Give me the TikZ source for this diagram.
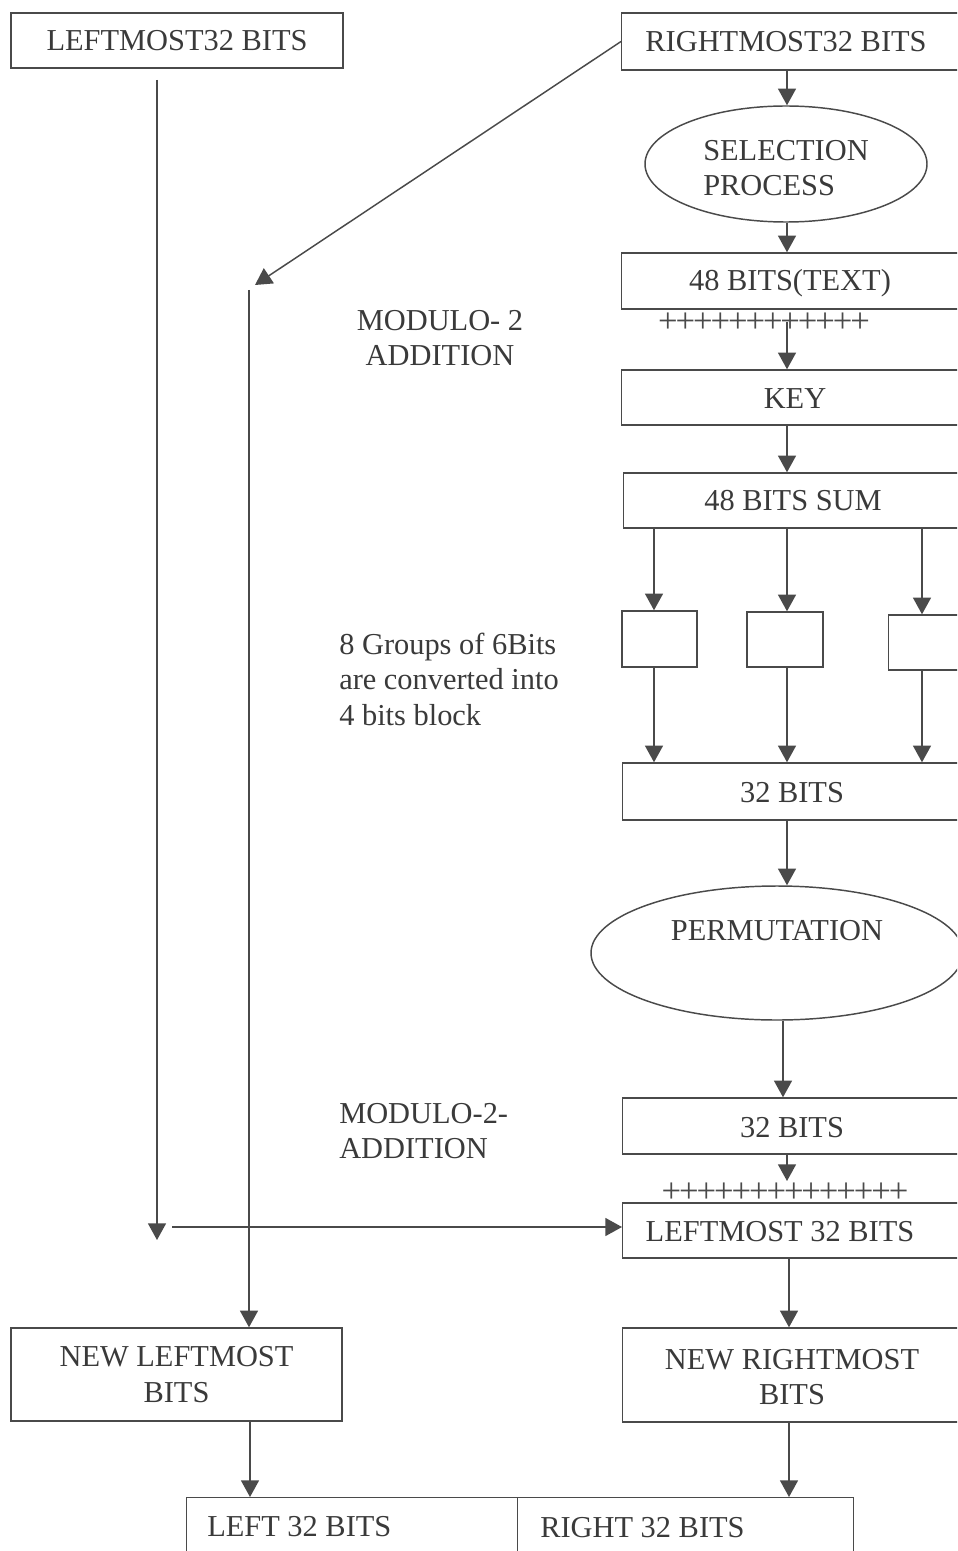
\documentclass[tikz,border=0pt]{standalone}
\usepackage{fontspec}
\setmainfont{Liberation Serif}
\newfontfamily\plusfont[LetterSpace=-6]{Liberation Serif}
\usetikzlibrary{arrows.meta,shapes.geometric}
\definecolor{ink}{HTML}{3A3A3A}
\definecolor{edge}{HTML}{4A4A4A}

\begin{document}
\begin{tikzpicture}[x=0.75pt,y=-0.75pt,
  every node/.style={text=ink, font=\fontsize{22.8pt}{26.6pt}\selectfont, inner sep=0pt},
  box/.style={draw=edge, line width=1.1pt, rectangle},
  rbox/.style={box, anchor=west, minimum width=345*0.75pt},
  oval/.style={draw=edge, line width=1.1pt, ellipse},
  arr/.style={draw=edge, line width=1.1pt, -{Triangle[width=13.5pt,length=12.5pt]}},
  plusrow/.style={font=\plusfont\fontsize{26pt}{26.6pt}\selectfont, text=edge},
]
\useasboundingbox (0,0) rectangle (957,1551);
\clip (0,0) rectangle (957,1551);

% left column boxes
\node[box, minimum width=332*0.75pt, minimum height=55*0.75pt] (lm) at (177,40.5) {LEFTMOST32 BITS};
\node[box, minimum width=331*0.75pt, minimum height=93*0.75pt, align=center] (nl) at (176.5,1374.5) {NEW LEFTMOST\\BITS};

% right column boxes (run off the right edge)
\node[rbox, minimum height=57*0.75pt] (rm) at (621,41.5) {};
\node (rmT) at (786,42) {RIGHTMOST32 BITS};
\node[oval, minimum width=282*0.75pt, minimum height=116*0.75pt] (sel) at (786,164) {};
\node[align=left] (selT) at (786,168) {SELECTION\\PROCESS};
\node[rbox, minimum height=56*0.75pt] (t48) at (621,281) {};
\node (t48T) at (790,283) {48 BITS(TEXT)};
\node[rbox, minimum height=55*0.75pt] (key) at (621,397.5) {};
\node (keyT) at (795,399) {KEY};
\node[rbox, minimum height=55*0.75pt] (sum) at (623,500.5) {};
\node (sumT) at (793,501) {48 BITS SUM};

% S-box groups
\node[box, minimum width=75*0.75pt, minimum height=56*0.75pt] (s1) at (659.5,639) {};
\node[box, minimum width=76*0.75pt, minimum height=55*0.75pt] (s2) at (785,639.5) {};
\node[box, anchor=west, minimum width=80*0.75pt, minimum height=55*0.75pt] (s3) at (888,642.5) {};

\node[rbox, minimum height=57*0.75pt] (b32a) at (622,791.5) {};
\node (b32aT) at (792,793) {32 BITS};
\node[oval, minimum width=372*0.75pt, minimum height=134*0.75pt] (perm) at (777,953) {};
\node (permT) at (777,931) {PERMUTATION};
\node[rbox, minimum height=56*0.75pt] (b32b) at (622,1126) {};
\node (b32bT) at (792,1128) {32 BITS};
\node[rbox, minimum height=55*0.75pt] (lm32) at (622,1230.5) {};
\node (lm32T) at (780,1232) {LEFTMOST 32 BITS};
\node[rbox, minimum height=94*0.75pt] (nr) at (622,1375) {};
\node[align=center] (nrT) at (792,1377) {NEW RIGHTMOST\\BITS};

% joined output block
\node[box, anchor=north west, minimum width=331*0.75pt, minimum height=70*0.75pt] (lb) at (186,1497) {};
\node[box, anchor=north west, minimum width=336*0.75pt, minimum height=70*0.75pt] (rb) at (517,1497) {};
\node[anchor=west] (lbT) at (207,1527) {LEFT 32 BITS};
\node[anchor=west] (rbT) at (540,1528) {RIGHT 32 BITS};

% side notes
\node[align=center] (mod1) at (440,338) {MODULO- 2\\ADDITION};
\node[align=left, anchor=west] (grp) at (339,679) {8 Groups of 6Bits\\are converted into\\4 bits block};
\node[align=left, anchor=west] (mod2) at (339,1131) {MODULO-2-\\ADDITION};

% XOR marks
\node[plusrow] (pr1) at (764,323) {++++++++++++};
\node[plusrow] (pr2) at (785,1193) {++++++++++++++};

% vertical guides
\coordinate (col) at (787,0);
\coordinate (col2) at (783,0);
\coordinate (col3) at (789,0);
\coordinate (ca) at (654,0);
\coordinate (cc) at (922,0);
\coordinate (c4) at (250,0);
\coordinate (p1) at (787,322);
\coordinate (tip2) at (787,1181);
\coordinate (ls) at (157,80);
\coordinate (le) at (157,1240);
\coordinate (hs) at (172,1227);
\coordinate (dt) at (255,285);
\coordinate (vs) at (249,290);

% main flow
\draw[arr] (col |- rm.south) -- (col |- sel.north);
\draw[arr] (col |- sel.south) -- (col |- t48.north);
\draw[arr] (p1) -- (col |- key.north);
\draw[arr] (col |- key.south) -- (col |- sum.north);
\draw[arr] (ca |- sum.south) -- (ca |- s1.north);
\draw[arr] (col |- sum.south) -- (col |- s2.north);
\draw[arr] (cc |- sum.south) -- (cc |- s3.north);
\draw[arr] (ca |- s1.south) -- (ca |- b32a.north);
\draw[arr] (col |- s2.south) -- (col |- b32a.north);
\draw[arr] (cc |- s3.south) -- (cc |- b32a.north);
\draw[arr] (col |- b32a.south) -- (col |- perm.north);
\draw[arr] (col2 |- perm.south) -- (col2 |- b32b.north);
\draw[arr] (col |- b32b.south) -- (tip2);
\draw[arr] (col3 |- lm32.south) -- (col3 |- nr.north);
\draw[arr] (col3 |- nr.south) -- (col3 |- rb.north);

% swaps on the left
\draw[arr] (ls) -- (le);
\draw[arr] (hs) -- (hs -| lm32.west);
\draw[arr] (rm.west) -- (dt);
\draw[arr] (vs) -- (vs |- nl.north);
\draw[arr] (c4 |- nl.south) -- (c4 |- lb.north);
\end{tikzpicture}
\end{document}
